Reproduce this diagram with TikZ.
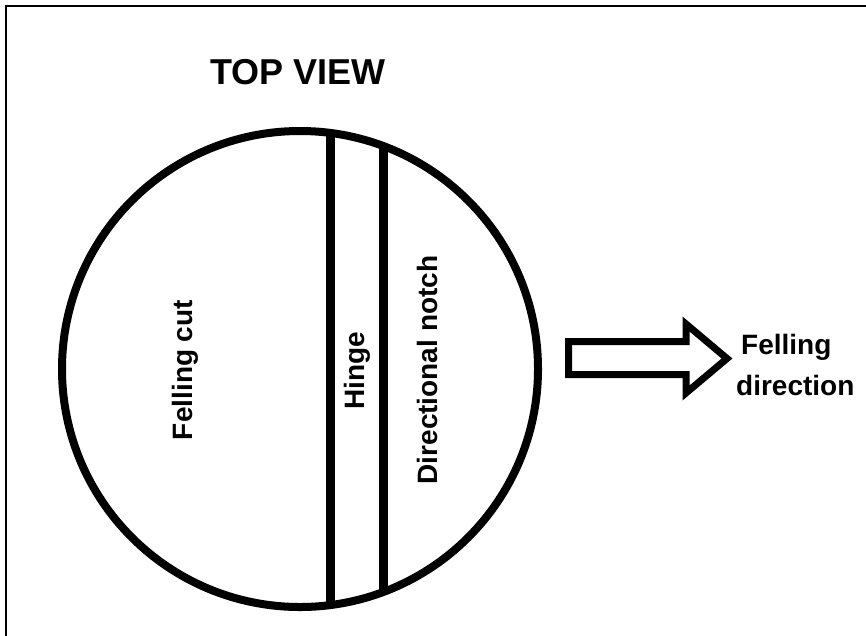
\documentclass[tikz,border=0pt]{standalone}
\usepackage{fontspec}
\setmainfont{Liberation Sans}
\begin{document}
\begin{tikzpicture}[x=1pt,y=-1pt,
  lbl/.style={font=\bfseries\fontsize{28}{32}\selectfont, inner sep=0pt},
  ttl/.style={font=\bfseries\fontsize{36}{40}\selectfont, inner sep=0pt},
  thick line/.style={line width=8pt},
  hingeline/.style={line width=9pt}]
\useasboundingbox (0,0) rectangle (866,635);
\fill[white] (0,0) rectangle (866,635);
% frame (cut at right and bottom)
\draw[line width=2pt] (6,640) -- (6,6) -- (872,6);
% title
\node[ttl, anchor=base] (title) at (298,84) {TOP VIEW};
% trunk
\coordinate (c) at (300,369);
\begin{scope}
  \clip (c) circle (238);
  \draw[hingeline] (330,100) -- (330,640);
  \draw[hingeline] (383,100) -- (383,640);
\end{scope}
\draw[thick line] (c) circle (238);
% labels
\node[lbl, rotate=90] (fc) at (185,370) {Felling cut};
\node[lbl, rotate=90] (hg) at (357,371) {Hinge};
\node[lbl, rotate=90] (dn) at (427,370) {Directional notch};
% arrow
\draw[line width=7pt, line join=miter, fill=white]
  (568.5,341.5) -- (686,341.5) -- (686,324) -- (727,358.5) -- (686,393)
  -- (686,374.5) -- (568.5,374.5) -- cycle;
\node[lbl, anchor=base west] (fd1) at (741,354) {Felling};
\node[lbl, anchor=base west] (fd2) at (736,395) {direction};
\end{tikzpicture}
\end{document}
